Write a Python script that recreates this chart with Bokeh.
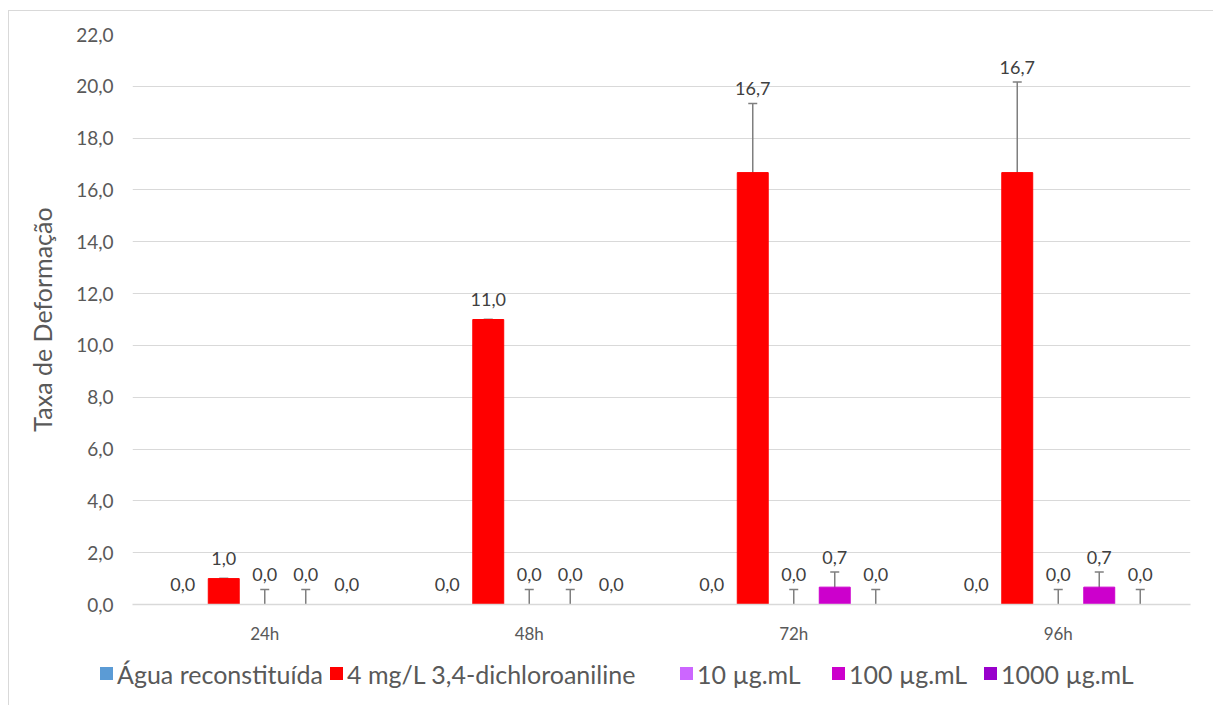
from bokeh.plotting import figure
from bokeh.layouts import column
from bokeh.models import (ColumnDataSource, FactorRange, Range1d, Whisker, TeeHead,
                          CustomJSTickFormatter, FixedTicker, Div)
from bokeh.transform import dodge
from bokeh.core.properties import value
from bokeh.embed import file_html
from bokeh.resources import INLINE

categories = ["24h", "48h", "72h", "96h"]
series_names = ["Água reconstituída", "4 mg/L 3,4-dichloroaniline",
                "10 µg.mL", "100 µg.mL", "1000 µg.mL"]
colors = ["#5B9BD5", "#FF0000", "#CC66FF", "#CC00CC", "#9900CC"]

agua = [0.0, 0.0, 0.0, 0.0]
dca = [1.0, 11.0, 16.67, 16.67]
c10 = [0.0, 0.0, 0.0, 0.0]
c100 = [0.0, 0.0, 0.67, 0.67]
c1000 = [0.0, 0.0, 0.0, 0.0]

agua_err = [None, None, None, None]
dca_err = [0.0, 0.0, 2.67, 3.5]
c10_err = [0.58, 0.58, 0.58, 0.58]
c100_err = [0.58, 0.58, 0.58, 0.58]
c1000_err = [None, None, 0.58, 0.58]

y_ticks = [0, 2, 4, 6, 8, 10, 12, 14, 16, 18, 20, 22]

all_values = [agua, dca, c10, c100, c1000]
all_errs = [agua_err, dca_err, c10_err, c100_err, c1000_err]

FONT = "Lato"
GREY = "#595959"

p = figure(x_range=FactorRange(factors=categories, range_padding=0),
           y_range=Range1d(0, 22), width=1196, height=639,
           output_backend="svg", toolbar_location=None,
           min_border_left=123, min_border_right=15, min_border_top=23,
           min_border_bottom=46)
p.outline_line_color = None

offsets = [-0.31, -0.155, 0.0, 0.155, 0.31]
bar_w = 0.117

for name, col, vals, errs, off in zip(series_names, colors, all_values, all_errs, offsets):
    labels = [f"{v:.1f}".replace(".", ",") for v in vals]
    label_y = [v + (e if e else 0.0) for v, e in zip(vals, errs)]
    yoff = [-8 if e else -14 for e in errs]
    src = ColumnDataSource(dict(cat=categories, val=vals, label=labels,
                                label_y=label_y, yoff=yoff))
    p.vbar(x=dodge("cat", off, range=p.x_range), top="val", width=bar_w,
           source=src, fill_color=col, line_color=col)
    wc = [c for c, e in zip(categories, errs) if e is not None]
    wu = [v + e for v, e in zip(vals, errs) if e is not None]
    wl = [v - e for v, e in zip(vals, errs) if e is not None]
    if wc:
        wsrc = ColumnDataSource(dict(cat=wc, upper=wu, lower=wl))
        w = Whisker(base=dodge("cat", off, range=p.x_range), upper="upper", lower="lower",
                    source=wsrc, line_color="#7F7F7F", line_width=1.5,
                    upper_head=TeeHead(size=9, line_color="#7F7F7F", line_width=1.5),
                    lower_head=TeeHead(size=9, line_color="#7F7F7F", line_width=1.5))
        p.add_layout(w)
    p.text(x=dodge("cat", off, range=p.x_range), y="label_y", text="label", source=src,
           text_align="center", text_baseline="bottom", y_offset="yoff",
           text_font=value(FONT), text_font_size="18px", text_color="#404040")

p.xgrid.visible = False
p.ygrid.grid_line_color = "#D9D9D9"
p.ygrid.grid_line_width = 1

p.yaxis.ticker = FixedTicker(ticks=y_ticks)
p.yaxis.formatter = CustomJSTickFormatter(code="return tick.toFixed(1).replace('.', ',');")
p.yaxis.axis_line_color = None
p.yaxis.major_tick_line_color = None
p.yaxis.minor_tick_line_color = None
p.yaxis.major_tick_out = 0
p.yaxis.major_label_standoff = 19
p.yaxis.major_label_text_font = FONT
p.yaxis.major_label_text_font_size = "19px"
p.yaxis.major_label_text_color = GREY
p.yaxis.axis_label = "Taxa de Deformação"
p.yaxis.axis_label_text_font = FONT
p.yaxis.axis_label_text_font_size = "25px"
p.yaxis.axis_label_text_font_style = "normal"
p.yaxis.axis_label_text_color = GREY
p.yaxis.axis_label_standoff = 16

p.xaxis.axis_line_color = "#D9D9D9"
p.xaxis.axis_line_width = 1.5
p.xaxis.major_tick_line_color = None
p.xaxis.minor_tick_line_color = None
p.xaxis.major_tick_out = 0
p.xaxis.major_label_standoff = 18
p.xaxis.major_label_text_font = FONT
p.xaxis.major_label_text_font_size = "17px"
p.xaxis.major_label_text_color = GREY

# legend strip below the chart (item slot widths follow the reference layout)
slot_widths = [230, 350, 152, 152, 160]
item_html = "".join(
    f'<span style="display:inline-flex;align-items:center;width:{w}px">'
    f'<span style="display:inline-block;width:13px;height:13px;background:{c};'
    f'margin-right:4px;flex:none"></span>{n}</span>'
    for n, c, w in zip(series_names, colors, slot_widths))
legend_div = Div(
    text=(f'<div style="font-family:Lato;font-size:25px;line-height:30px;color:{GREY};'
          f'white-space:nowrap;padding-left:86px;padding-top:0px;margin:0">{item_html}</div>'),
    width=1196, height=50)

layout = column(p, legend_div, spacing=0,
                styles={"border-left": "1px solid #D9D9D9", "border-top": "1px solid #D9D9D9",
                        "margin-left": "8px", "margin-top": "10px"})

open("out.html", "w").write(file_html(layout, INLINE))
